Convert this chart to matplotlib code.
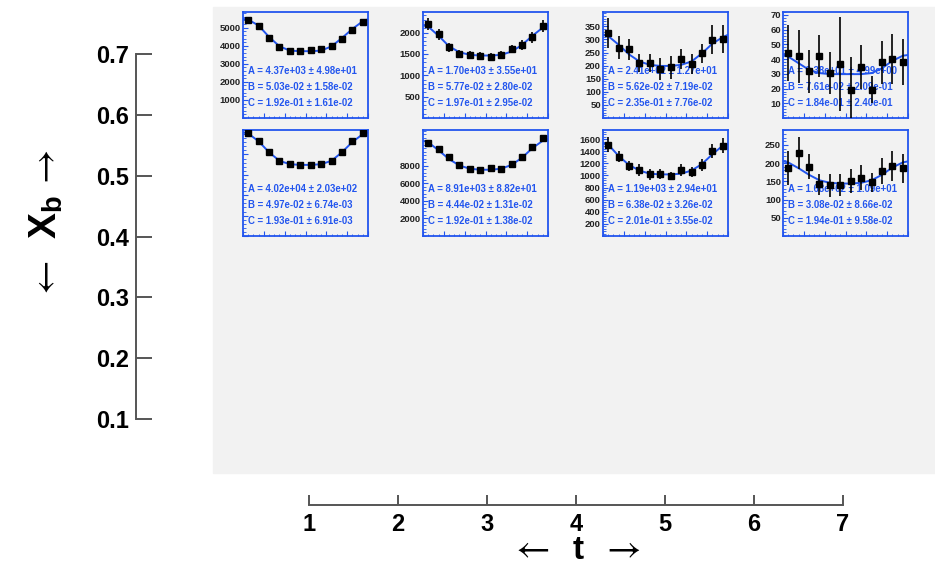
import matplotlib
matplotlib.use('Agg')
import matplotlib.pyplot as plt
import numpy as np
from matplotlib.patches import Rectangle
from matplotlib.ticker import AutoMinorLocator, MultipleLocator, NullFormatter

plt.rcParams['font.family'] = ['Liberation Sans', 'DejaVu Sans']
plt.rcParams['mathtext.fontset'] = 'custom'
plt.rcParams['mathtext.rm'] = 'Liberation Sans'
plt.rcParams['mathtext.bf'] = 'Liberation Sans:bold'

# main frame axes
t_ticks = [1, 2, 3, 4, 5, 6, 7]
xb_ticks = [0.1, 0.2, 0.3, 0.4, 0.5, 0.6, 0.7]

# small histograms: 12 bins each, fit curve read at edges and bin centres
bins = np.arange(12) + 0.5
fit_x = np.concatenate(([0], bins, [12]))

counts_1 = [5440, 5100, 4420, 3930, 3730, 3730, 3790, 3810, 3985, 4390, 4900, 5300]
errs_1 = [75, 72, 68, 63, 62, 62, 62, 63, 64, 67, 71, 74]
fit_1 = [5480, 5450, 5120, 4490, 3970, 3730, 3700, 3700, 3730, 3970, 4430, 4930, 5360, 5470]
pars_1 = ['A = 4.37e+03 ± 4.98e+01', 'B = 5.03e-02 ± 1.58e-02', 'C = 1.92e-01 ± 1.61e-02']
yt_1 = [1000, 2000, 3000, 4000, 5000]

counts_2 = [2190, 1960, 1650, 1500, 1477, 1462, 1423, 1485, 1615, 1708, 1885, 2154]
errs_2 = [140, 130, 110, 95, 90, 90, 90, 92, 100, 108, 120, 135]
fit_2 = [2169, 2138, 1923, 1677, 1539, 1477, 1462, 1462, 1477, 1554, 1708, 1923, 2115, 2169]
pars_2 = ['A = 1.70e+03 ± 3.55e+01', 'B = 5.77e-02 ± 2.80e-02', 'C = 1.97e-01 ± 2.95e-02']
yt_2 = [500, 1000, 1500, 2000]

counts_3 = [325, 268, 262, 209, 209, 188, 193, 226, 207, 247, 299, 303]
errs_3 = [56, 44, 40, 35, 35, 42, 43, 39, 37, 37, 56, 53]
fit_3 = [318, 313, 280, 243, 216, 203, 199, 199, 203, 216, 247, 284, 309, 318]
pars_3 = ['A = 2.41e+02 ± 1.27e+01', 'B = 5.62e-02 ± 7.19e-02', 'C = 2.35e-01 ± 7.76e-02']
yt_3 = [50, 100, 150, 200, 250, 300, 350]

counts_4 = [43.9, 42.1, 31.6, 42.1, 30.5, 36.7, 18.7, 34.5, 19.3, 37.9, 40.1, 37.9]
errs_4 = [19, 18, 14.5, 14.5, 14.5, 32, 23, 15, 9, 14.5, 17, 15.5]
fit_4 = [43.2, 41.7, 37.2, 32.7, 30.5, 29.8, 29.8, 29.8, 29.8, 30.5, 33.8, 38.8, 42.3, 42.8]
pars_4 = ['A = 3.38e+01 ± 4.99e+00', 'B = 7.61e-02 ± 2.09e-01', 'C = 1.84e-01 ± 2.40e-01']
yt_4 = [10, 20, 30, 40, 50, 60, 70]

counts_5 = [50320, 46630, 41100, 36900, 35230, 35060, 34890, 35560, 36740, 41100, 46470, 50320]
errs_5 = [230, 220, 210, 200, 195, 195, 195, 195, 200, 210, 220, 230]
fit_5 = [50810, 50310, 46450, 41090, 36890, 35220, 34880, 34880, 35220, 36890, 41090, 46120, 49970, 50810]
pars_5 = ['A = 4.02e+04 ± 2.03e+02', 'B = 4.97e-02 ± 6.74e-03', 'C = 1.93e-01 ± 6.91e-03']
yt_5 = []

counts_6 = [10610, 9950, 9030, 8110, 7630, 7560, 7700, 7670, 8180, 9030, 10130, 11130]
errs_6 = [110, 105, 100, 95, 92, 92, 92, 92, 95, 100, 105, 110]
fit_6 = [10870, 10690, 9770, 8770, 8040, 7670, 7560, 7560, 7670, 8110, 8920, 10020, 10870, 11050]
pars_6 = ['A = 8.91e+03 ± 8.82e+01', 'B = 4.44e-02 ± 1.31e-02', 'C = 1.92e-01 ± 1.38e-02']
yt_6 = [2000, 4000, 6000, 8000]

counts_7 = [1509, 1311, 1161, 1092, 1017, 1028, 990, 1092, 1054, 1177, 1402, 1493]
errs_7 = [128, 91, 80, 94, 86, 86, 67, 94, 80, 99, 115, 126]
fit_7 = [1536, 1509, 1322, 1172, 1081, 1028, 1017, 1017, 1028, 1081, 1188, 1349, 1493, 1525]
pars_7 = ['A = 1.19e+03 ± 2.94e+01', 'B = 6.38e-02 ± 3.26e-02', 'C = 2.01e-01 ± 3.55e-02']
yt_7 = [200, 400, 600, 800, 1000, 1200, 1400, 1600]

counts_8 = [186, 228, 190, 142, 139, 140, 151, 160, 147, 179, 192, 186]
errs_8 = [47, 45, 34, 29, 32, 29, 32, 35, 26, 36, 42, 40]
fit_8 = [205, 202, 186, 168, 153, 146, 144, 144, 146, 153, 168, 188, 202, 205]
pars_8 = ['A = 1.68e+02 ± 1.09e+01', 'B = 3.08e-02 ± 8.66e-02', 'C = 1.94e-01 ± 9.58e-02']
yt_8 = [50, 100, 150, 200, 250]

W, H = 935, 566
fig = plt.figure(figsize=(W / 100, H / 100), dpi=100)


def px_axes(x0, y0, x1, y1):
    # axes from pixel box (top-left origin)
    return fig.add_axes([x0 / W, 1 - y1 / H, (x1 - x0) / W, (y1 - y0) / H])


# grey pad
fig.add_artist(Rectangle((213 / W, 1 - 473 / H), (W - 213) / W, (473 - 7) / H,
                         transform=fig.transFigure, color='#f2f2f2', zorder=0))

axcol = '#555555'

# vertical axis X_b
ay = px_axes(136, 54, 160, 419)
ay.set_facecolor('none')
ay.set_ylim(0.1, 0.7)
ay.set_yticks(xb_ticks)
ay.set_yticklabels([f'{v:.1f}' for v in xb_ticks], fontsize=17, fontweight='bold')
ay.set_xticks([])
for s in ['top', 'right', 'bottom']:
    ay.spines[s].set_visible(False)
ay.spines['left'].set_color(axcol)
ay.spines['left'].set_linewidth(1.4)
ay.tick_params(axis='y', direction='in', length=11.5, width=1.4, color=axcol, pad=5)

# horizontal axis t
ax_t = px_axes(309, 470, 843, 505)
ax_t.set_facecolor('none')
ax_t.set_xlim(1, 7)
ax_t.set_xticks(t_ticks)
ax_t.set_xticklabels([str(v) for v in t_ticks], fontsize=17, fontweight='bold')
ax_t.set_yticks([])
for s in ['top', 'right', 'left']:
    ax_t.spines[s].set_visible(False)
ax_t.spines['bottom'].set_color(axcol)
ax_t.spines['bottom'].set_linewidth(1.4)
ax_t.tick_params(axis='x', direction='in', length=7.2, width=1.4, color=axcol, pad=5.5)

# axis titles (thin stix arrows)
fig.text(530 / W, 1 - 548 / H, r'$\leftarrow$', fontsize=27, math_fontfamily='stix',
         ha='center', va='center')
fig.text(578 / W, 1 - 566 / H, 't', fontsize=24, fontweight='bold', ha='center', va='bottom')
fig.text(621 / W, 1 - 548 / H, r'$\rightarrow$', fontsize=27, math_fontfamily='stix',
         ha='center', va='center')
fig.text(45 / W, 1 - 280 / H, r'$\leftarrow$', fontsize=27, math_fontfamily='stix',
         ha='center', va='center', rotation=90)
fig.text(46 / W, 1 - 217 / H, r'$\mathbf{X}_{\mathbf{b}}$', fontsize=28, ha='center', va='center',
         rotation=90)
fig.text(45 / W, 1 - 169 / H, r'$\rightarrow$', fontsize=27, math_fontfamily='stix',
         ha='center', va='center', rotation=90)

# small fit panels
blue = '#2255ee'
panels = [
    (counts_1, errs_1, fit_1, pars_1, yt_1, 5870),
    (counts_2, errs_2, fit_2, pars_2, yt_2, 2480),
    (counts_3, errs_3, fit_3, pars_3, yt_3, 405),
    (counts_4, errs_4, fit_4, pars_4, yt_4, 72),
    (counts_5, errs_5, fit_5, pars_5, yt_5, 52000),
    (counts_6, errs_6, fit_6, pars_6, yt_6, 12090),
    (counts_7, errs_7, fit_7, pars_7, yt_7, 1750),
    (counts_8, errs_8, fit_8, pars_8, yt_8, 291),
]
col_left = [243, 423, 603, 783]
row_top = [12, 130]

for i, (cnt, err, fit, pars, yt, ytop) in enumerate(panels):
    x0 = col_left[i % 4]
    y0 = row_top[i // 4]
    ax = px_axes(x0, y0, x0 + 125, y0 + 106)
    ax.set_facecolor('none')
    ax.set_xlim(0, 12)
    ax.set_ylim(0, ytop)
    ax.errorbar(bins, cnt, yerr=err, fmt='s', color='black', ms=5, elinewidth=1.2,
                capsize=0, zorder=4)
    ax.plot(fit_x, fit, color=blue, lw=1.4, zorder=3)
    for k, s in enumerate(pars):
        ax.text(0.04, 0.445 - 0.152 * k, s, transform=ax.transAxes, fontsize=6.9,
                fontweight='bold', color=blue, va='center', ha='left', zorder=2)
    for s in ax.spines.values():
        s.set_color(blue)
        s.set_linewidth(1.3)
    ax.xaxis.set_major_locator(MultipleLocator(2))
    ax.xaxis.set_minor_locator(MultipleLocator(0.5))
    ax.set_xticklabels([])
    if yt:
        ax.set_yticks(yt)
        ax.set_yticklabels([str(v) for v in yt], fontsize=6.8, fontweight='bold', color='#222222')
    else:
        ax.yaxis.set_major_locator(MultipleLocator(10000))
        ax.yaxis.set_major_formatter(NullFormatter())
    ax.yaxis.set_minor_locator(AutoMinorLocator(5))
    ax.tick_params(which='both', direction='in', color=blue, top=False, right=False, pad=1.5)
    ax.tick_params(which='major', length=3.5, width=0.8)
    ax.tick_params(which='minor', length=1.8, width=0.6)

fig.savefig('out.png', dpi=100)
